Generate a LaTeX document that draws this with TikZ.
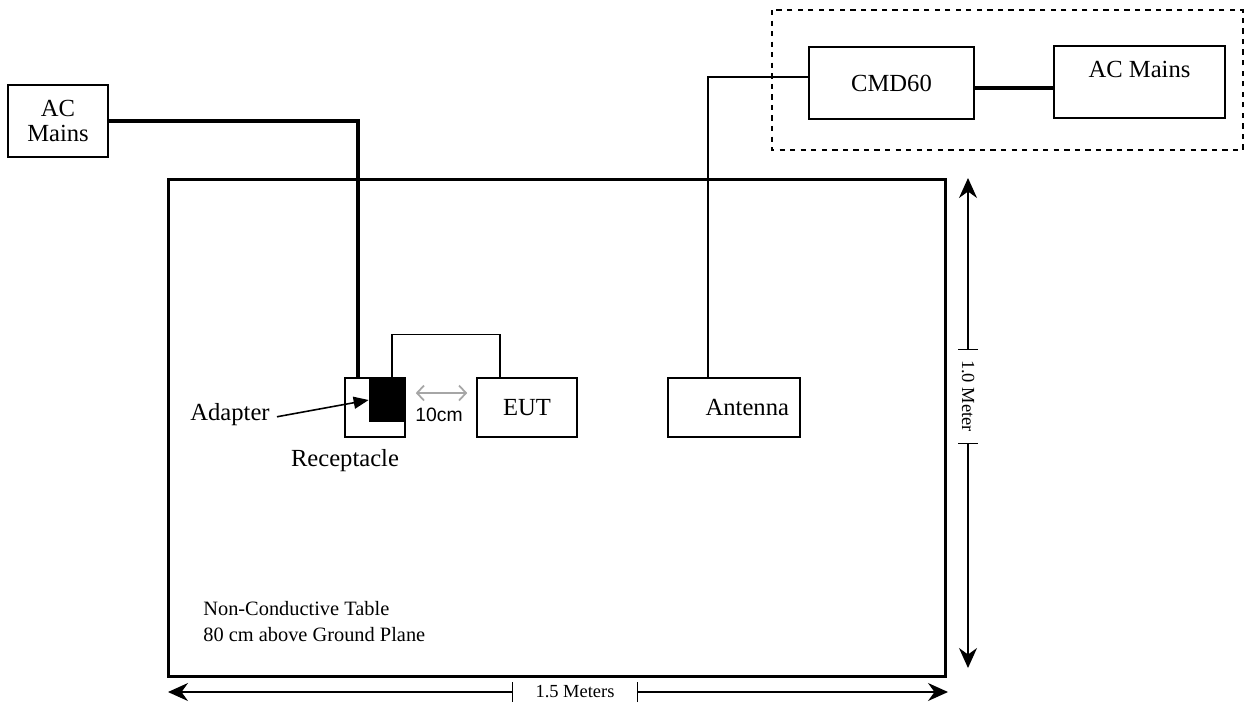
\documentclass[tikz,border=0pt]{standalone}
\usepackage{fontspec}
\setmainfont{Liberation Serif}
\newfontfamily\labelsans{Liberation Sans}
\usetikzlibrary{positioning,arrows.meta}

\begin{document}
\begin{tikzpicture}[x=0.02cm, y=-0.02cm,
    box/.style={draw, line width=0.9pt, inner sep=1pt, align=center, font=\fontsize{14}{14.5}\selectfont},
    power/.style={line width=1.8pt},
    wire/.style={line width=0.9pt},
    dim/.style={line width=0.8pt, {Bar[width=0.4cm]}-{Stealth[length=0.4cm,width=0.36cm,inset=0.13cm]}},
    dimtext/.style={font=\fontsize{10.5}{12}\selectfont, inner sep=0pt},
    note/.style={font=\fontsize{14}{15}\selectfont, inner sep=0pt}]
  \useasboundingbox (0,0) rectangle (1246,707);
  % Sketch: radiated test set-up on the non-conductive table
  \node[draw, line width=1.7pt, minimum width=15.56cm, minimum height=9.96cm] (table) at (557,428) {};
  \node[anchor=north west, align=left, inner sep=0pt, font=\fontsize{11.6}{15}\selectfont] (tabletext) at (203,601)
    {Non-Conductive Table\\80 cm above Ground Plane};

  \node[box, minimum width=2cm, minimum height=1.44cm] (acl) at (58,121) {AC\\Mains};
  \node[box, minimum width=1.2cm, minimum height=1.18cm] (rec) at (375,407.5) {};
  \node[fill=black, inner sep=0pt, minimum width=0.7cm, minimum height=0.88cm] (blk) at (386.5,400) {};
  \node[box, minimum width=2cm, minimum height=1.18cm] (eut) at (527,407.5) {EUT};
  \node[box, minimum width=2.64cm, minimum height=1.18cm, text width=2.2cm, align=right] (ant) at (734,407.5) {Antenna};
  \node[box, minimum width=3.3cm, minimum height=1.44cm] (cmd) at (891.5,83) {CMD60};
  \node[box, minimum width=3.42cm, minimum height=1.44cm, text height=9.5pt, text depth=15pt] (acr) at (1139.5,82) {AC Mains};
  \draw[dashed, line width=0.9pt] (772,10) rectangle (1243,150);

  \node[note] (adp) at (230,415) {Adapter};
  \node[note] (reclab) at (345,461) {Receptacle};
  \node[font=\labelsans\fontsize{11}{13}\selectfont, inner sep=0pt] (gaplab) at (439,415) {10cm};

  % cables
  \draw[power] (acl.east) -| ([xshift=-0.34cm]rec.north);
  \draw[wire] ([xshift=0.11cm]blk.north) -- ++(0,-43) -| ([xshift=-0.54cm]eut.north);
  \draw[wire] ([xshift=-0.52cm]ant.north) |- ([yshift=0.12cm]cmd.west);
  \draw[power] ([yshift=-0.1cm]cmd.east) -- ([yshift=-0.1cm]cmd.east -| acr.west);
  \draw[line width=0.9pt, -{Triangle[length=0.3cm,width=0.24cm]}] ([xshift=4pt,yshift=-1pt]adp.east) -- (blk.west);
  \draw[gray!70, line width=1pt, {Straight Barb[length=0.14cm,width=0.3cm]}-{Straight Barb[length=0.14cm,width=0.3cm]}]
    ([xshift=0.2cm,yshift=0.29cm]rec.east) -- ([xshift=-0.18cm,yshift=0.29cm]eut.west);

  % dimensions
  \coordinate (vtop) at (968,178);
  \coordinate (vbot) at (968,668);
  \coordinate (vtick1) at (968,350);
  \coordinate (vtick2) at (968,443);
  \node[dimtext, rotate=-90] (vlab) at (968,396) {1.0 Meter};
  \draw[dim] (vtick1) -- (vtop);
  \draw[dim] (vtick2) -- (vbot);
  \coordinate (hleft) at (168,692);
  \coordinate (hright) at (948,692);
  \coordinate (htick1) at (513,692);
  \coordinate (htick2) at (637,692);
  \node[dimtext] (hlab) at (575,692) {1.5 Meters};
  \draw[dim] (htick1) -- (hleft);
  \draw[dim] (htick2) -- (hright);
\end{tikzpicture}
\end{document}
